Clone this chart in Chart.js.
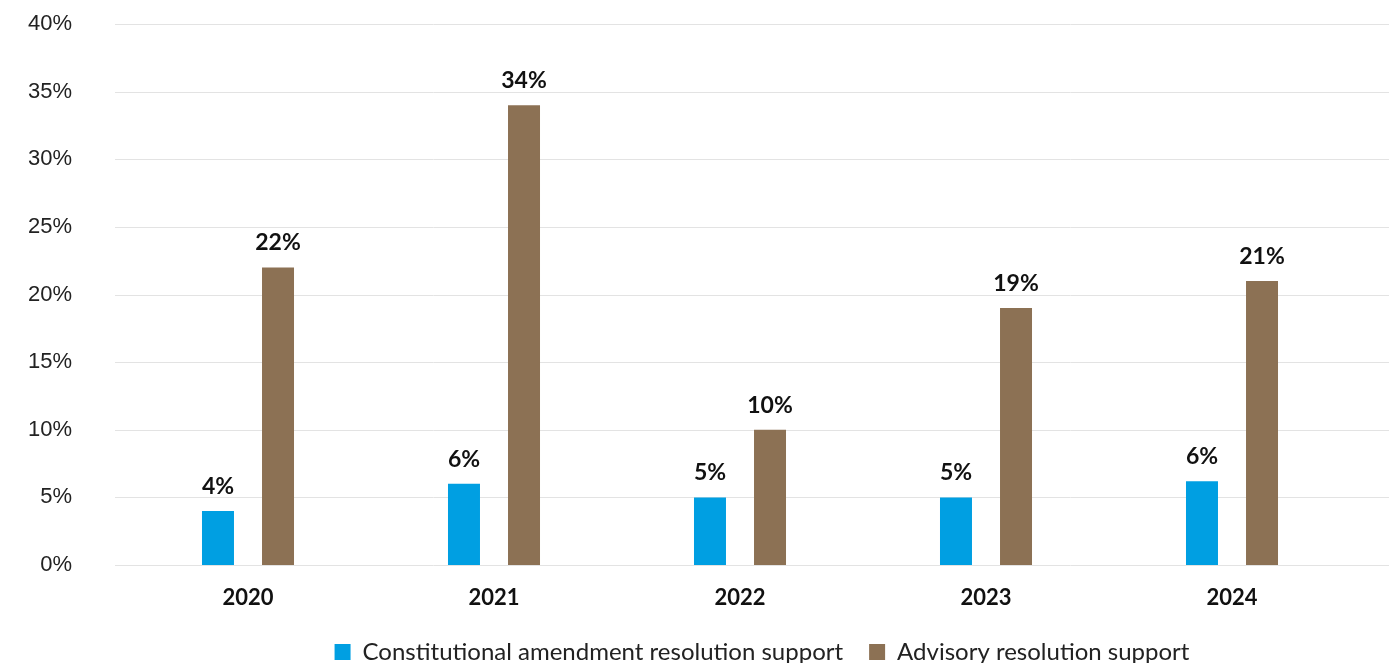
<!DOCTYPE html>
<html>
<head>
<meta charset="utf-8">
<script src="https://cdn.jsdelivr.net/npm/chart.js@4.4.1/dist/chart.umd.min.js"></script>
<style>
    html, body { margin: 0; padding: 0; background: #fff; }
    #wrap { width: 1389px; height: 663px; position: relative; }
</style>
</head>
<body>
<div id="wrap"><canvas id="myChart"></canvas></div>
<script>
const years = ['2020', '2021', '2022', '2023', '2024'];
const amendmentSupport = [4, 6, 5, 5, 6.2];
const advisorySupport = [22, 34, 10, 19, 21];
const yTicks = [0, 5, 10, 15, 20, 25, 30, 35, 40];

// grid lines run wider than the plot area, like the original
const wideGrid = {
    id: 'wideGrid',
    afterLayout(chart) {
        // legend sits a bit right of centre in the original
        chart.legend.left += 44;
    },
    beforeDatasetsDraw(chart) {
        const ctx = chart.ctx;
        const y = chart.scales.y;
        ctx.save();
        ctx.strokeStyle = '#e3e3e3';
        ctx.lineWidth = 1;
        yTicks.forEach(function (t) {
            const py = Math.round(y.getPixelForValue(t)) + 0.5;
            ctx.beginPath();
            ctx.moveTo(115, py);
            ctx.lineTo(chart.width, py);
            ctx.stroke();
        });
        ctx.restore();
    }
};

// value labels above bars
const barLabels = {
    id: 'barLabels',
    afterDatasetsDraw(chart) {
        const ctx = chart.ctx;
        ctx.save();
        ctx.font = 'bold 23px Lato, "Liberation Sans", sans-serif';
        ctx.fillStyle = '#111';
        ctx.textAlign = 'center';
        ctx.textBaseline = 'bottom';
        chart.data.datasets.forEach(function (ds, i) {
            chart.getDatasetMeta(i).data.forEach(function (bar, j) {
                ctx.fillText(Math.round(ds.data[j]) + '%', bar.x, bar.y - 13);
            });
        });
        ctx.restore();
    }
};

new Chart(document.getElementById('myChart'), {
    type: 'bar',
    data: {
        labels: years,
        datasets: [{
            label: 'Constitutional amendment resolution support',
            data: amendmentSupport,
            backgroundColor: '#009FE2'
        }, {
            label: 'Advisory resolution support',
            data: advisorySupport,
            backgroundColor: '#8C7154'
        }]
    },
    options: {
        responsive: true,
        maintainAspectRatio: false,
        animation: false,
        datasets: { bar: { categoryPercentage: 0.488, barPercentage: 0.533 } },
        layout: { padding: { top: 24, right: 34, left: 0, bottom: -11 } },
        scales: {
            x: {
                afterFit: function (scale) { scale.height = 49; },
                grid: { display: false, drawTicks: false },
                border: { display: false },
                ticks: {
                    padding: 20,
                    color: '#111',
                    font: { family: 'Lato, "Liberation Sans", sans-serif', size: 22, weight: 'bold' }
                }
            },
            y: {
                min: 0,
                max: 40,
                afterFit: function (scale) {
                    scale.width = 125;
                    scale.paddingTop = 0;
                    scale.paddingBottom = 0;
                },
                grid: { display: false, drawTicks: false },
                border: { display: false },
                ticks: {
                    stepSize: 5,
                    padding: 53,
                    color: '#222',
                    font: { family: '"Liberation Sans", Arial, sans-serif', size: 22 },
                    callback: function (v) { return v + '%'; }
                }
            }
        },
        plugins: {
            legend: {
                position: 'bottom',
                fullSize: false,
                labels: {
                    boxWidth: 16,
                    boxHeight: 16,
                    padding: 26,
                    color: '#222',
                    font: { family: 'Lato, "Liberation Sans", sans-serif', size: 24 }
                }
            },
            tooltip: { enabled: false }
        }
    },
    plugins: [wideGrid, barLabels]
});
</script>
</body>
</html>
